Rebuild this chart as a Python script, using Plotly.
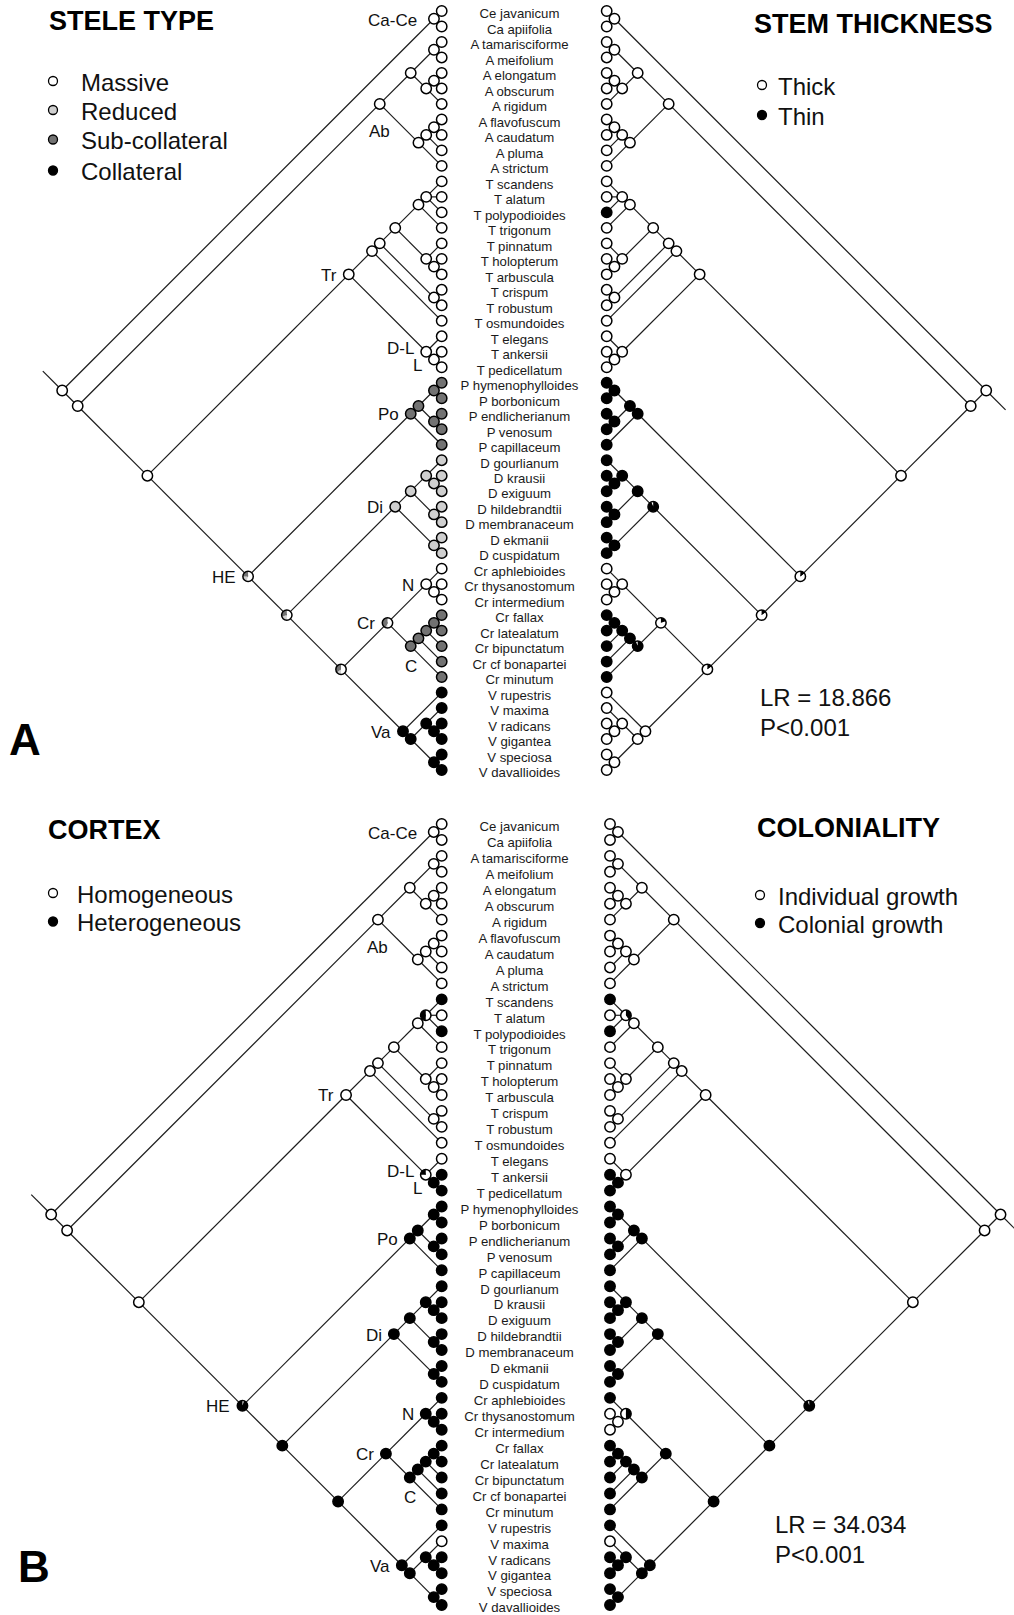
import math
import plotly.graph_objects as go

# ------------------------------------------------------------------ data
taxa = ["Ce javanicum", "Ca apiifolia", "A tamarisciforme", "A meifolium", "A elongatum",
        "A obscurum", "A rigidum", "A flavofuscum", "A caudatum", "A pluma", "A strictum",
        "T scandens", "T alatum", "T polypodioides", "T trigonum", "T pinnatum",
        "T holopterum", "T arbuscula", "T crispum", "T robustum", "T osmundoides",
        "T elegans", "T ankersii", "T pedicellatum", "P hymenophylloides", "P borbonicum",
        "P endlicherianum", "P venosum", "P capillaceum", "D gourlianum", "D krausii",
        "D exiguum", "D hildebrandtii", "D membranaceum", "D ekmanii", "D cuspidatum",
        "Cr aphlebioides", "Cr thysanostomum", "Cr intermedium", "Cr fallax",
        "Cr latealatum", "Cr bipunctatum", "Cr cf bonapartei", "Cr minutum",
        "V rupestris", "V maxima", "V radicans", "V gigantea", "V speciosa", "V davallioides"]

# topology (tip indices refer to taxa)
clade_CaCe = [0, 1]
clade_Ab = [[[2, 3], [[4, 5], 6]], [[[7, 8], 9], 10]]
clade_Tr = [[[[[[11, 12, 13], 14], [15, [16, 17]]], [18, 19]], 20], [21, [22, 23]]]
clade_Po = [[[24, 25], [26, 27]], 28]
clade_Di = [[[29, [30, 31]], [32, 33]], [34, 35]]
clade_Cr = [[36, [37, 38]], [[[[39, 40], 41], 42], 43]]
clade_Va = [44, [[45, [46, 47]], [48, 49]]]
tree = [clade_CaCe, [clade_Ab, [clade_Tr, [clade_Po, [clade_Di, [clade_Cr, clade_Va]]]]]]

# --- character 1: stele type (0 massive, 1 reduced, 2 sub-collateral, 3 collateral)
stele_tips = [0, 0, 0, 0, 0, 0, 0, 0, 0, 0,
              0, 0, 0, 0, 0, 0, 0, 0, 0, 0,
              0, 0, 0, 0, 2, 2, 2, 2, 2, 1,
              1, 1, 1, 1, 1, 1, 0, 0, 0, 2,
              2, 2, 2, 2, 3, 3, 3, 3, 3, 3]
stele_nodes = {
    "0-49": 0, "0-1": 0, "2-49": 0, "2-10": 0, "2-6": 0, "2-3": 0, "4-6": 0, "4-5": 0,
    "7-10": 0, "7-9": 0, "7-8": 0, "11-49": 0, "11-23": 0, "11-20": 0, "11-19": 0,
    "11-17": 0, "11-14": 0, "11-13": 0, "15-17": 0, "16-17": 0, "18-19": 0,
    "21-23": 0, "22-23": 0,
    "24-49": [0.55, 0.2, 0.25, 0.0], "24-28": 2, "24-27": 2, "24-25": 2, "26-27": 2,
    "29-49": [0.5, 0.2, 0.3, 0.0], "29-35": 1, "29-33": 1, "29-31": 1, "30-31": 1,
    "32-33": 1, "34-35": 1,
    "36-49": [0.5, 0.15, 0.35, 0.0], "36-43": [0.5, 0.05, 0.45, 0.0], "36-38": 0, "37-38": 0,
    "39-43": 2, "39-42": 2, "39-41": 2, "39-40": 2,
    "44-49": 3, "45-49": 3, "45-47": 3, "46-47": 3, "48-49": 3,
}
stele_labels = ["Massive", "Reduced", "Sub-collateral", "Collateral"]

# --- character 2: stem thickness (0 thick, 1 thin)
stem_tips = [0, 0, 0, 0, 0, 0, 0, 0, 0, 0,
             0, 0, 0, 1, 0, 0, 0, 0, 0, 0,
             0, 0, 0, 0, 1, 1, 1, 1, 1, 1,
             1, 1, 1, 1, 1, 1, 0, 0, 0, 1,
             1, 1, 1, 1, 0, 0, 0, 0, 0, 0]
stem_nodes = {
    "0-49": 0, "0-1": 0, "2-49": 0, "2-10": 0, "2-6": 0, "2-3": 0, "4-6": 0, "4-5": 0,
    "7-10": 0, "7-9": 0, "7-8": 0, "11-49": 0, "11-23": 0, "11-20": 0, "11-19": 0,
    "11-17": 0, "11-14": 0, "11-13": 0, "15-17": 0, "16-17": 0, "18-19": 0,
    "21-23": 0, "22-23": 0,
    "24-49": [0.85, 0.15], "24-28": 1, "24-27": 1, "24-25": 1, "26-27": 1,
    "29-49": [0.85, 0.15], "29-35": [0.06, 0.94], "29-33": 1, "29-31": 1, "30-31": 1,
    "32-33": 1, "34-35": 1,
    "36-49": [0.85, 0.15], "36-43": [0.8, 0.2], "36-38": 0, "37-38": 0,
    "39-43": [0.06, 0.94], "39-42": 1, "39-41": 1, "39-40": 1,
    "44-49": 0, "45-49": 0, "45-47": 0, "46-47": 0, "48-49": 0,
}
stem_labels = ["Thick", "Thin"]

# --- character 3: cortex (0 homogeneous, 1 heterogeneous)
cortex_tips = [0, 0, 0, 0, 0, 0, 0, 0, 0, 0,
               0, 1, 0, 1, 0, 0, 0, 0, 0, 0,
               0, 0, 1, 1, 1, 1, 1, 1, 1, 1,
               1, 1, 1, 1, 1, 1, 1, 1, 1, 1,
               1, 1, 1, 1, 1, 0, 1, 1, 1, 1]
cortex_nodes = {
    "0-49": 0, "0-1": 0, "2-49": 0, "2-10": 0, "2-6": 0, "2-3": 0, "4-6": 0, "4-5": 0,
    "7-10": 0, "7-9": 0, "7-8": 0, "11-49": 0, "11-23": 0, "11-20": 0, "11-19": 0,
    "11-17": 0, "11-14": 0, "11-13": [0.5, 0.5], "15-17": 0, "16-17": 0, "18-19": 0,
    "21-23": [0.75, 0.25], "22-23": 1,
    "24-49": [0.05, 0.95], "24-28": 1, "24-27": 1, "24-25": 1, "26-27": 1,
    "29-49": 1, "29-35": 1, "29-33": 1, "29-31": 1, "30-31": 1, "32-33": 1, "34-35": 1,
    "36-49": 1, "36-43": 1, "36-38": 1, "37-38": 1,
    "39-43": 1, "39-42": 1, "39-41": 1, "39-40": 1,
    "44-49": 1, "45-49": 1, "45-47": 1, "46-47": 1, "48-49": 1,
}
cortex_labels = ["Homogeneous", "Heterogeneous"]

# --- character 4: coloniality (0 individual, 1 colonial)
colon_tips = [0, 0, 0, 0, 0, 0, 0, 0, 0, 0,
              0, 1, 0, 1, 0, 0, 0, 0, 0, 0,
              0, 0, 1, 1, 1, 1, 1, 1, 1, 1,
              1, 1, 1, 1, 1, 1, 1, 0, 0, 1,
              1, 1, 1, 1, 1, 0, 1, 1, 1, 1]
colon_nodes = {
    "0-49": 0, "0-1": 0, "2-49": 0, "2-10": 0, "2-6": 0, "2-3": 0, "4-6": 0, "4-5": 0,
    "7-10": 0, "7-9": 0, "7-8": 0, "11-49": 0, "11-23": 0, "11-20": 0, "11-19": 0,
    "11-17": 0, "11-14": 0, "11-13": [0.6, 0.4], "15-17": 0, "16-17": 0, "18-19": 0,
    "21-23": 0, "22-23": 1,
    "24-49": [0.05, 0.95], "24-28": 1, "24-27": 1, "24-25": 1, "26-27": 1,
    "29-49": 1, "29-35": 1, "29-33": 1, "29-31": 1, "30-31": 1, "32-33": 1, "34-35": 1,
    "36-49": 1, "36-43": 1, "36-38": [0.5, 0.5], "37-38": 0,
    "39-43": 1, "39-42": 1, "39-41": 1, "39-40": 1,
    "44-49": 1, "45-49": 1, "45-47": 1, "46-47": 1, "48-49": 1,
}
colon_labels = ["Individual growth", "Colonial growth"]

clade_names = [("0-1", "Ca-Ce"), ("2-10", "Ab"), ("11-23", "Tr"), ("21-23", "D-L"),
               ("22-23", "L"), ("24-28", "Po"), ("29-35", "Di"), ("24-49", "HE"),
               ("36-38", "N"), ("36-43", "Cr"), ("39-43", "C"), ("44-49", "Va")]

stats = {"A": ["LR = 18.866", "P<0.001"], "B": ["LR = 34.034", "P<0.001"]}

# ------------------------------------------------------------------ layout / style
W, H = 1014, 1615
FONT = "Liberation Sans, Arial, sans-serif"
ROW0 = {"A": 11.0, "B": 824.0}
SP = {"A": 15.49, "B": 15.94}
TIPX = {("A", "L"): 441.7, ("A", "R"): 606.7, ("B", "L"): 441.7, ("B", "R"): 610.0}
NAME_X = 519.5
NAME_DY = 4.0
RAD = 5.2
MK_LINE = 1.5
LINE_C = "#1c1c1c"
WHITE, LGRAY, DGRAY, BLACK = "#ffffff", "#cfcfcf", "#727272", "#000000"

panels = [
    dict(panel="A", side="L", tips=stele_tips, nodes=stele_nodes,
         colors=[WHITE, LGRAY, DGRAY, BLACK], title="STELE TYPE", labels=stele_labels,
         title_pos=(47, 21), leg_x=53, leg_tx=79, leg_y=[81, 110, 139.5, 170.5]),
    dict(panel="A", side="R", tips=stem_tips, nodes=stem_nodes,
         colors=[WHITE, BLACK], title="STEM THICKNESS", labels=stem_labels,
         title_pos=(752, 24), leg_x=762, leg_tx=776, leg_y=[85, 115]),
    dict(panel="B", side="L", tips=cortex_tips, nodes=cortex_nodes,
         colors=[WHITE, BLACK], title="CORTEX", labels=cortex_labels,
         title_pos=(46, 830), leg_x=53, leg_tx=75, leg_y=[893, 921.5]),
    dict(panel="B", side="R", tips=colon_tips, nodes=colon_nodes,
         colors=[WHITE, BLACK], title="COLONIALITY", labels=colon_labels,
         title_pos=(755, 828), leg_x=760, leg_tx=776, leg_y=[895, 923]),
]


def collect(node, nodes, edges):
    if isinstance(node, int):
        return (node, node)
    rs = [collect(c, nodes, edges) for c in node]
    rng = (rs[0][0], rs[-1][1])
    nodes.append(rng)
    for r in rs:
        edges.append((rng, r))
    return rng


all_nodes, all_edges = [], []
root_rng = collect(tree, all_nodes, all_edges)


def pos(rng, panel, side):
    f, l = rng
    sp = SP[panel]
    y = ROW0[panel] + sp * (f + l) / 2.0
    sgn = -1 if side == "L" else 1
    x = TIPX[(panel, side)] + sgn * sp * (l - f) / 2.0
    return x, y


def key(rng):
    return f"{rng[0]}-{rng[1]}"


fig = go.Figure()
annotations = []

for p in panels:
    pa, sd = p["panel"], p["side"]
    # branches
    xs, ys = [], []
    for parent, child in all_edges:
        x0, y0 = pos(parent, pa, sd)
        x1, y1 = pos(child, pa, sd)
        xs += [x0, x1, None]
        ys += [y0, y1, None]
    rx, ry = pos(root_rng, pa, sd)
    stem = 1.25 * SP[pa]
    if sd == "L":
        xs += [rx, rx - stem, None]
        ys += [ry, ry - stem, None]
    else:
        xs += [rx, rx + stem, None]
        ys += [ry, ry + stem, None]
    fig.add_trace(go.Scatter(x=xs, y=ys, mode="lines", line=dict(color=LINE_C, width=1.2),
                             hoverinfo="skip", showlegend=False))

    # states at tips and nodes
    items = [((i, i), p["tips"][i]) for i in range(len(taxa))]
    items += [(rng, p["nodes"][key(rng)]) for rng in all_nodes]
    sx, sy, sc = [], [], []
    pies = []
    for rng, st in items:
        x, y = pos(rng, pa, sd)
        if isinstance(st, list):
            pies.append((x, y, st))
        else:
            sx.append(x)
            sy.append(y)
            sc.append(p["colors"][st])
    fig.add_trace(go.Scatter(x=sx, y=sy, mode="markers",
                             marker=dict(size=2 * RAD, color=sc, line=dict(color="black", width=MK_LINE)),
                             hoverinfo="skip", showlegend=False))
    # pies (left trees clockwise from 12 o'clock, right trees mirrored)
    mirror = -1 if sd == "R" else 1
    wedge = {}
    for (cx, cy, fr) in pies:
        a = 0.0
        for si, f in enumerate(fr):
            if f <= 0:
                continue
            a0, a1 = a, a + f * 2 * math.pi
            a = a1
            n = max(3, int((a1 - a0) / (2 * math.pi) * 60) + 2)
            wx, wy = [cx], [cy]
            for k in range(n + 1):
                t = a0 + (a1 - a0) * k / n
                wx.append(cx + mirror * RAD * math.sin(t))
                wy.append(cy - RAD * math.cos(t))
            wx += [cx, None]
            wy += [cy, None]
            c = p["colors"][si]
            wedge.setdefault(c, ([], []))
            wedge[c][0].extend(wx)
            wedge[c][1].extend(wy)
    for c, (wx, wy) in wedge.items():
        fig.add_trace(go.Scatter(x=wx, y=wy, mode="lines", fill="toself", fillcolor=c,
                                 line=dict(width=0, color=c), hoverinfo="skip", showlegend=False))
    if pies:
        fig.add_trace(go.Scatter(x=[q[0] for q in pies], y=[q[1] for q in pies], mode="markers",
                                 marker=dict(size=2 * RAD, color="rgba(0,0,0,0)",
                                             line=dict(color="black", width=MK_LINE)),
                                 hoverinfo="skip", showlegend=False))

    # title
    annotations.append(dict(x=p["title_pos"][0], y=p["title_pos"][1], text=f"<b>{p['title']}</b>",
                            xanchor="left", yanchor="middle", showarrow=False,
                            font=dict(family=FONT, size=27, color="black")))
    # legend
    fig.add_trace(go.Scatter(x=[p["leg_x"]] * len(p["labels"]), y=p["leg_y"], mode="markers",
                             marker=dict(size=9, color=p["colors"], line=dict(color="black", width=1.3)),
                             hoverinfo="skip", showlegend=False))
    for lab, ly in zip(p["labels"], p["leg_y"]):
        annotations.append(dict(x=p["leg_tx"], y=ly + 1, text=lab, xanchor="left", yanchor="middle",
                                showarrow=False, font=dict(family=FONT, size=24, color="#111")))

    # clade labels on the left trees
    if sd == "L":
        for k, lab in clade_names:
            f, l = map(int, k.split("-"))
            x, y = pos((f, l), pa, sd)
            if lab in ("Ab", "C"):
                dy = 28 if lab == "Ab" else 20
                annotations.append(dict(x=x, y=y + dy, text=lab, xanchor="center", yanchor="middle",
                                        showarrow=False, font=dict(family=FONT, size=17, color="#111")))
            else:
                dx = -15 if lab == "Ca-Ce" else -10
                dy = {"D-L": -3, "L": 6, "Ca-Ce": 2}.get(lab, 1)
                annotations.append(dict(x=x + dx, y=y + dy, text=lab, xanchor="right", yanchor="middle",
                                        showarrow=False, font=dict(family=FONT, size=17, color="#111")))

# taxon names
for pa in ("A", "B"):
    fig.add_trace(go.Scatter(x=[NAME_X] * len(taxa),
                             y=[ROW0[pa] + SP[pa] * i + NAME_DY for i in range(len(taxa))],
                             mode="text", text=taxa, textposition="middle center",
                             textfont=dict(family=FONT, size=13.2, color="#1a1a1a"),
                             hoverinfo="skip", showlegend=False, cliponaxis=False))

# statistics and panel letters
stat_pos = {"A": (758, 697, 727), "B": (773, 1524, 1554)}
for pa, (sx0, y1, y2) in stat_pos.items():
    for txt, yy in zip(stats[pa], (y1, y2)):
        annotations.append(dict(x=sx0, y=yy, text=txt, xanchor="left", yanchor="middle",
                                showarrow=False, font=dict(family=FONT, size=24, color="#111")))
annotations.append(dict(x=25, y=739, text="<b>A</b>", xanchor="center", yanchor="middle",
                        showarrow=False, font=dict(family=FONT, size=44, color="black")))
annotations.append(dict(x=34, y=1566, text="<b>B</b>", xanchor="center", yanchor="middle",
                        showarrow=False, font=dict(family=FONT, size=44, color="black")))

fig.update_layout(
    width=W, height=H, margin=dict(l=0, r=0, t=0, b=0),
    paper_bgcolor="white", plot_bgcolor="white", showlegend=False,
    xaxis=dict(range=[0, W], visible=False, fixedrange=True),
    yaxis=dict(range=[H, 0], visible=False, fixedrange=True),
    annotations=annotations,
)
fig.write_html("out.html", config={"displayModeBar": False},
               post_script="document.body.style.margin='0';document.body.style.overflow='hidden';")
